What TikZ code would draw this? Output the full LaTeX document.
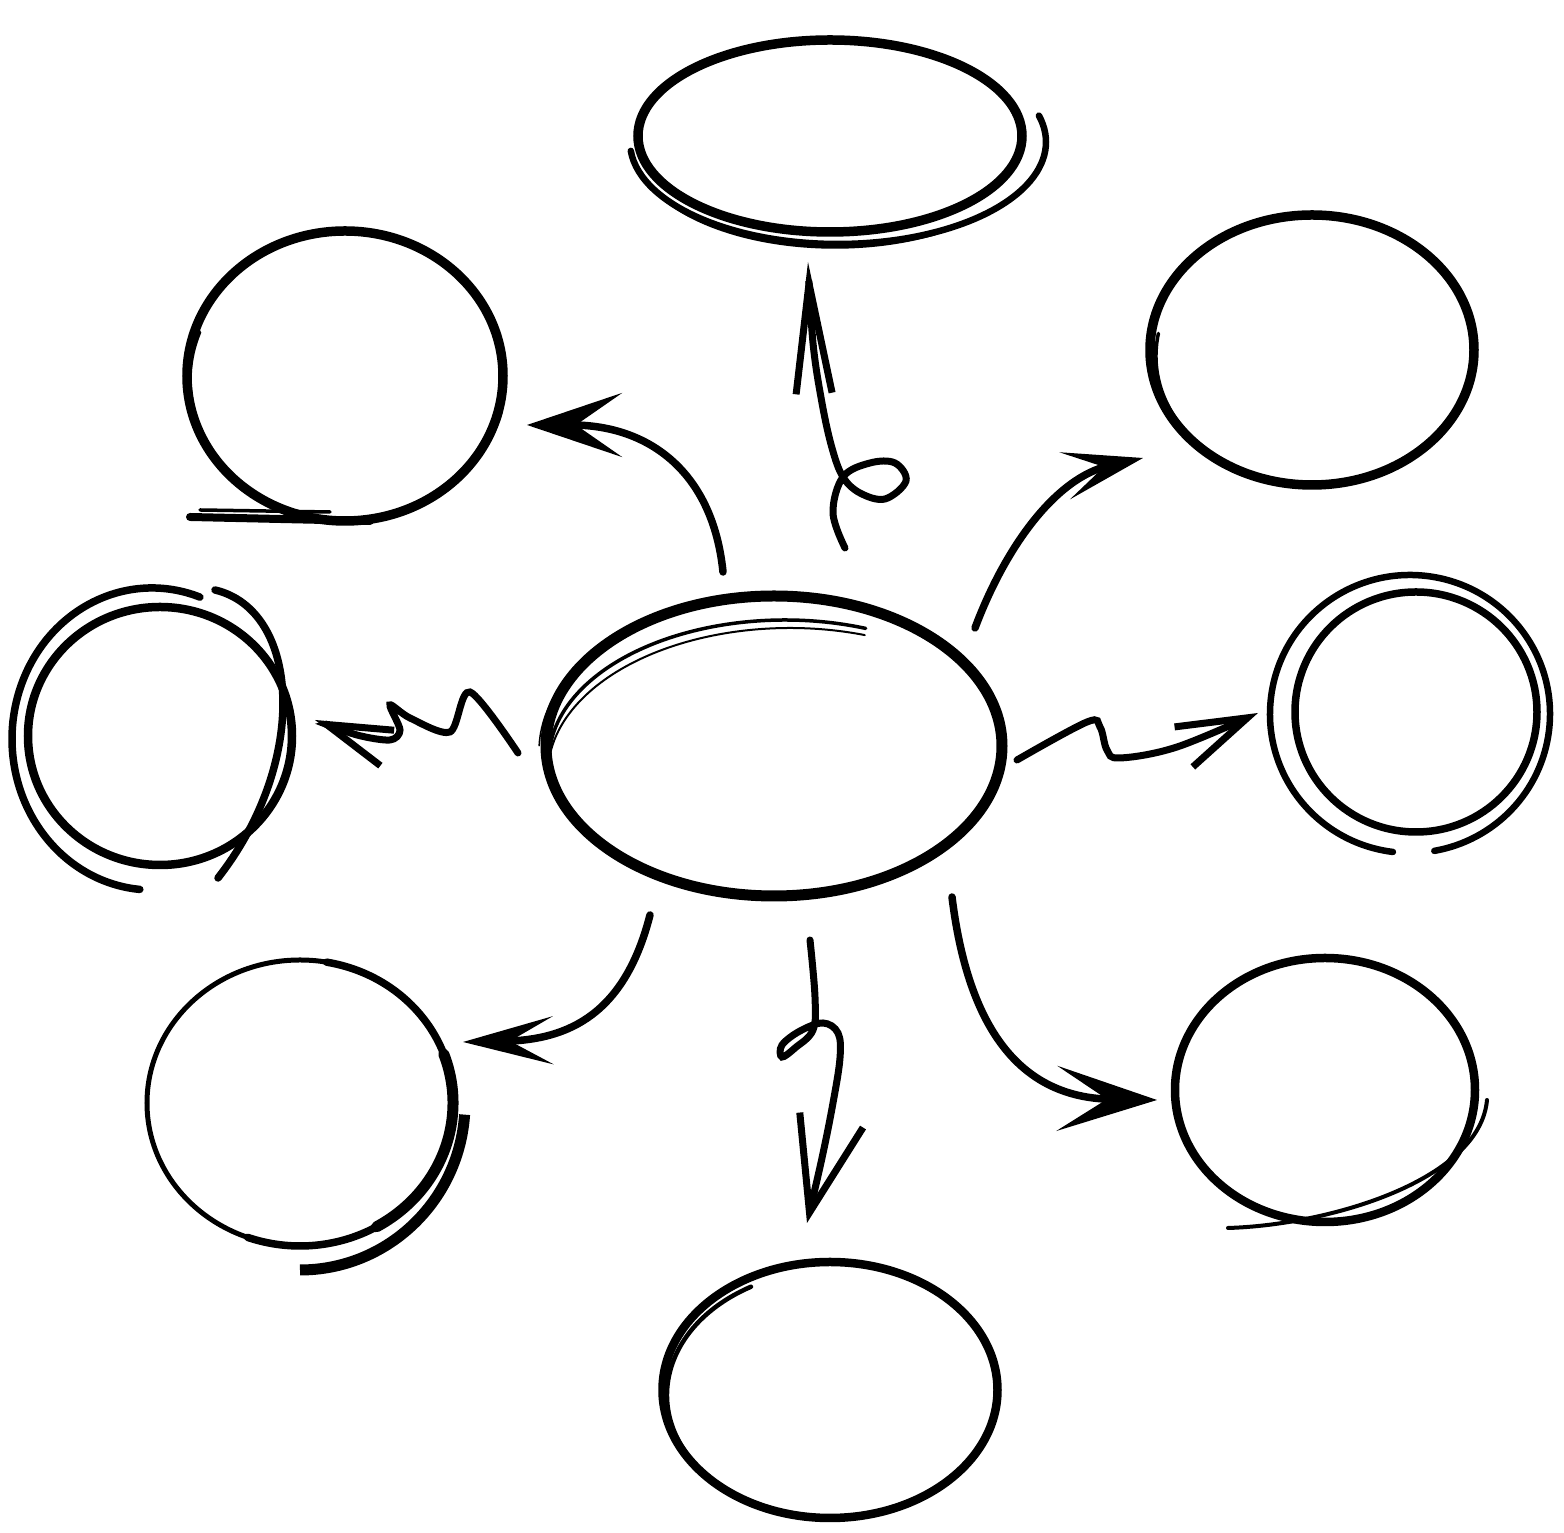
\documentclass[tikz,border=0pt]{standalone}
\usetikzlibrary{arrows.meta,shapes.geometric,calc}

\begin{document}
\begin{tikzpicture}[x=1mm,y=1mm,line cap=round,
  bubble/.style={draw,ellipse,line width=.95mm,inner sep=0pt},
  trace/.style={line width=.35mm},
  link/.style={line width=.75mm},
  curl/.style={line width=.7mm}]
\useasboundingbox (0,0) rectangle (156.4,153.3);
\node[bubble,line width=1.1mm,minimum width=45.6mm,minimum height=30mm](hub)at(77.4,78.7){};
\node[bubble,minimum width=38.4mm,minimum height=19.2mm](top)at(83,139.7){};
\node[bubble,minimum width=31.6mm,minimum height=29mm](nw)at(34.5,115.7){};
\node[bubble,minimum width=32.4mm,minimum height=27mm](ne)at(131.2,118.3){};
\node[bubble,line width=.85mm,minimum width=26.4mm,minimum height=25.8mm](w)at(16,79.7){};
\node[bubble,line width=.75mm,minimum width=24.2mm,minimum height=24mm](e)at(141.6,82.1){};
\node[bubble,line width=.5mm,minimum width=30.6mm,minimum height=28.6mm](sw)at(30,43){};
\node[bubble,line width=.85mm,minimum width=30mm,minimum height=26.4mm](se)at(132.5,44.3){};
\node[bubble,line width=.85mm,minimum width=33.5mm,minimum height=25.6mm](s)at(83,14.3){};
% sketchy strokes
\draw[trace](78.5,77.3)++(185:23.6 and 14)arc[start angle=185,end angle=70,x radius=23.6,y radius=14];
\draw[trace,line width=.2mm](79,76)++(180:24.2 and 14.5)arc[start angle=180,end angle=72,x radius=24.2,y radius=14.5];
\draw[trace,line width=.15mm](77.2,78.2)++(178:23.3 and 15.3)arc[start angle=178,end angle=125,x radius=23.3,y radius=15.3];
\draw[line width=.65mm](83.8,139.1)++(185:20.8 and 10.2)arc[start angle=185,end angle=375,x radius=20.8,y radius=10.2];
\draw[trace](83.5,138.6)++(200:20 and 10)arc[start angle=200,end angle=300,x radius=20,y radius=10];
\draw[trace](35,115.3)++(160:16 and 14)arc[start angle=160,end angle=230,x radius=16,y radius=14];
\draw[link,line width=.8mm](19,101.6)--(37,101.2);\draw[trace](20,102.3)--(33,102.1);
\draw[link](34,116.1)++(-15:16.5 and 15)arc[start angle=-15,end angle=-55,x radius=16.5,y radius=15];
\draw[trace](131.6,117.7)++(170:16 and 13)arc[start angle=170,end angle=290,x radius=16,y radius=13];
\draw[link](15.2,79.4)++(70:14 and 15.1)arc[start angle=70,end angle=265,x radius=14,y radius=15.1];
\draw[link](21.5,94.3)..controls(30,92.3)and(31,77.3)..(21.8,65.5);
\draw[link,line width=.65mm](141,81.9)++(263:14 and 13.9)arc[start angle=263,end angle=-80,x radius=14,y radius=13.9];
\draw[link](30,43)++(80:15.3 and 14.3)arc[start angle=80,end angle=-110,x radius=15.3,y radius=14.3];
\draw[line width=1.1mm](30,43)++(20:15.3 and 14.3)arc[start angle=20,end angle=-60,x radius=15.3,y radius=14.3];
\draw[line width=1.1mm,line cap=butt](30,43)++(-4:16.5 and 16.7)arc[start angle=-4,end angle=-90,x radius=16.5,y radius=16.7];
\draw[trace,line width=.4mm](122.8,30.5)..controls(133,30.8)and(148,35.3)..(148.7,43.3);
\draw[trace,line width=.45mm](83.5,13.8)++(120:16.8 and 12.5)arc[start angle=120,end angle=260,x radius=16.8,y radius=12.5];
% arrows
\coordinate(nTail)at($(hub)+(7.1,19.8)$);\coordinate(nTip)at($(top)+(-2.2,-12.6)$);
\draw[curl,-{Straight Barb[length=11mm,width=3.6mm]}]plot[smooth,tension=.6]coordinates{(nTail)(83.3,102)(84.3,105.6)(87,107)(89.5,107)(90.6,105.2)(88.5,103.4)(86,104)(84.3,105.6)(83.2,108.5)(82.2,113)(81.3,119)(nTip)};
\coordinate(nwTail)at($(hub)+(-5.1,17.4)$);\coordinate(nwTip)at($(nw)+(18.2,-4.9)$);
\draw[link,-{Stealth[length=9.5mm,width=6.4mm,inset=4.6mm]}](nwTail)..controls(71.3,106)and(65,110.8)..(nwTip);
\coordinate(neTail)at($(hub)+(20.1,11.8)$);\coordinate(neTip)at($(ne)+(-16.9,-10.8)$);
\draw[link,-{Stealth[length=8mm,width=4.8mm,inset=4mm]}](neTail)..controls(100.5,98.5)and(105.5,105.5)..(neTip);
\coordinate(wTail)at($(hub)+(-25.6,-0.7)$);\coordinate(wTip)at($(w)+(15.5,1.6)$);
\draw[curl,-{Straight Barb[length=6.5mm,width=3.8mm]}]plot[smooth,tension=.5]coordinates{(wTail)(47,84.1)(45,80.1)(41,81.5)(39,82.8)(40,80.3)(39,79.3)(35.7,79.8)(wTip)};
\coordinate(eTail)at($(hub)+(24.3,-1.4)$);\coordinate(eTip)at($(e)+(-15.8,-0.1)$);
\draw[curl,-{Straight Barb[length=7mm,width=4.4mm]}]plot[smooth,tension=.6]coordinates{(eTail)(108.7,81.1)(110,80.6)(110.7,78.3)(112,77.5)(117.7,78.6)(eTip)};
\coordinate(swTail)at($(hub)+(-12.4,-16.9)$);\coordinate(swTip)at($(sw)+(16.3,6.1)$);
\draw[link,-{Stealth[length=9mm,width=4.8mm,inset=4.3mm]}](swTail)..controls(62.5,52)and(57,49.3)..(swTip);
\coordinate(sTail)at($(hub)+(3.6,-19.4)$);\coordinate(sTip)at($(s)+(-2.3,16.7)$);
\draw[curl,-{Straight Barb[length=9.5mm,width=6.5mm]}]plot[smooth,tension=.6]coordinates{(sTail)(81.5,53.6)(81.3,50.3)(79.5,48.5)(78.2,47.6)(78.2,48.8)(80,50.2)(82.3,51)(83.8,50)(84,47.5)(83.3,43)(82.2,37.5)(sTip)};
\coordinate(seTail)at($(hub)+(17.8,-15.1)$);\coordinate(seTip)at($(se)+(-16.8,-1)$);
\draw[link,-{Stealth[length=10mm,width=6.5mm,inset=5mm]}](seTail)..controls(97,49)and(103,43.5)..(seTip);
\end{tikzpicture}
\end{document}
